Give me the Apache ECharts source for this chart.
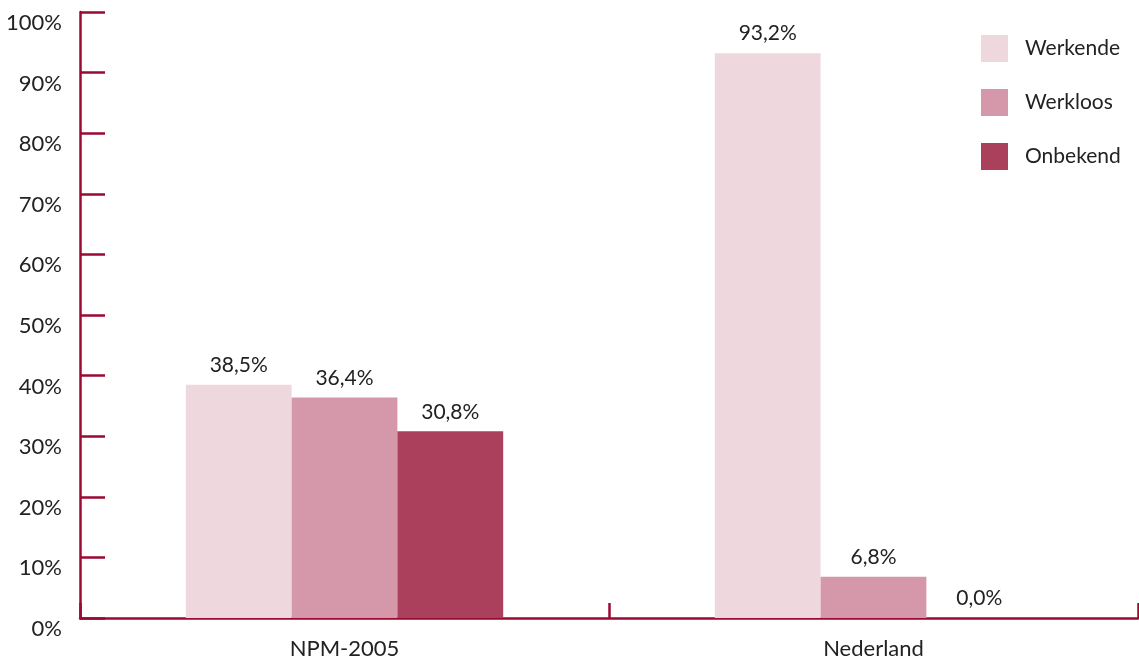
<!DOCTYPE html>
<html>
<head>
<meta charset="utf-8">
<script src="https://cdn.jsdelivr.net/npm/echarts@6/dist/echarts.min.js"></script>
<style>
  html, body { margin: 0; padding: 0; background: #fff; }
  #chart { width: 1139px; height: 662px; }
</style>
</head>
<body>
<div id="chart"></div>
<script>
const categories = ['NPM-2005', 'Nederland']
const werkende = [38.5, 93.2]
const werkloos = [36.4, 6.8]
const onbekend = [30.8, 0.0]
const seriesNames = ['Werkende', 'Werkloos', 'Onbekend']

const axisColor = '#9b0a32'
const textColor = '#222'
const font = 'Lato'

const pct = v => v.toFixed(1).replace('.', ',') + '%'

const chart = echarts.init(document.getElementById('chart'))

const barLabel = {
  show: true,
  position: 'top',
  distance: 9,
  color: textColor,
  fontFamily: font,
  fontSize: 21,
  formatter: p => pct(p.value)
}

const makeSeries = (name, data, color) => ({
  name,
  type: 'bar',
  data,
  barGap: '0%',
  barCategoryGap: '40%',
  itemStyle: { color },
  label: barLabel
})

chart.setOption({
  animation: false,
  grid: { left: 80, right: 1, top: 12, bottom: 44 },
  legend: {
    orient: 'vertical',
    left: 981,
    top: 35,
    padding: 0,
    itemWidth: 27,
    itemHeight: 27,
    itemGap: 27,
    icon: 'rect',
    data: seriesNames,
    textStyle: { color: textColor, fontFamily: font, fontSize: 21, padding: [0, 0, 0, 12] }
  },
  xAxis: {
    type: 'category',
    data: categories,
    axisLine: { lineStyle: { color: axisColor, width: 2.5 } },
    axisTick: { show: true, interval: 0, inside: true, length: 15, lineStyle: { color: axisColor, width: 2.5 } },
    axisLabel: { color: textColor, fontFamily: font, fontSize: 22, margin: 20 }
  },
  yAxis: {
    type: 'value',
    min: 0,
    max: 100,
    interval: 10,
    axisLine: { show: true, lineStyle: { color: axisColor, width: 2.5 } },
    axisTick: { show: true, inside: true, length: 25, lineStyle: { color: axisColor, width: 2.5 } },
    splitLine: { show: false },
    axisLabel: {
      color: textColor,
      fontFamily: font,
      fontSize: 22,
      margin: 18,
      verticalAlign: 'top',
      formatter: '{value}%'
    }
  },
  series: [
    makeSeries(seriesNames[0], werkende, '#eed8de'),
    makeSeries(seriesNames[1], werkloos, '#d498aa'),
    makeSeries(seriesNames[2], onbekend, '#aa405c')
  ]
})
</script>
</body>
</html>
